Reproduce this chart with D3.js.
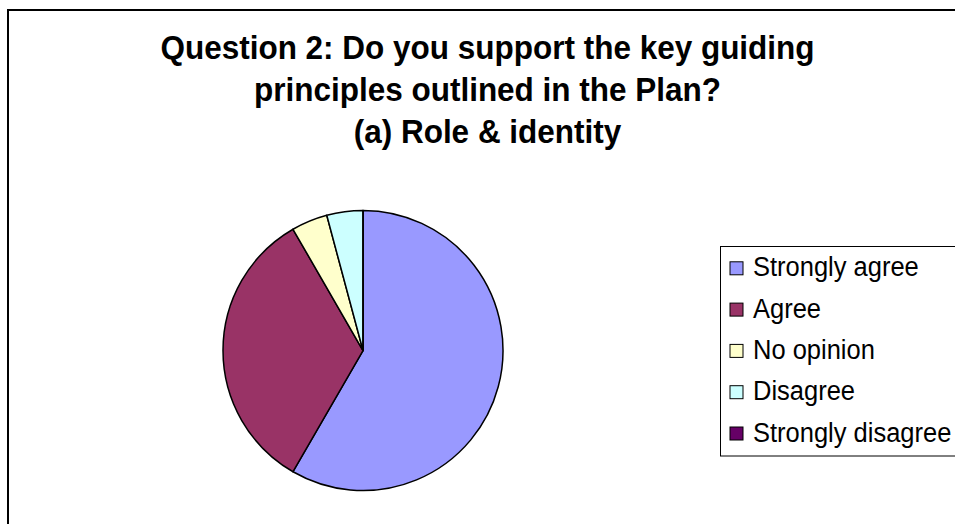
<!DOCTYPE html>
<html>
<head>
<meta charset="utf-8">
<script src="https://cdn.jsdelivr.net/npm/d3@7"></script>
<style>
  body { margin: 0; background: #fff; }
  svg { display: block; }
</style>
</head>
<body>
<div id="pie-chart"></div>
<script>
// chart data
var categories = ["Strongly agree", "Agree", "No opinion", "Disagree", "Strongly disagree"];
var counts = [14, 8, 1, 1, 0];
var colours = ["#9999ff", "#993366", "#ffffcc", "#ccffff", "#660066"];
var titleLines = [
  "Question 2: Do you support the key guiding",
  "principles outlined in the Plan?",
  "(a) Role & identity"
];

var width = 955, height = 524;
var fontFamily = "'Liberation Sans', Arial, sans-serif";

var svg = d3.select("#pie-chart").append("svg")
    .attr("width", width)
    .attr("height", height);

// outer chart frame (runs off the right and bottom edge)
svg.append("rect")
    .attr("x", 8)
    .attr("y", 10)
    .attr("width", 1000)
    .attr("height", 600)
    .attr("fill", "#fff")
    .attr("stroke", "#000")
    .attr("stroke-width", 2);

// title, text in the original is a little taller than wide
svg.selectAll(".title").data(titleLines).enter()
  .append("text")
    .attr("class", "title")
    .attr("text-anchor", "middle")
    .attr("transform", function(d, i) { return "translate(487.5," + (59 + i * 42) + ") scale(1,1.06)"; })
    .style("font-family", fontFamily)
    .style("font-weight", "bold")
    .style("font-size", "31.5px")
    .text(function(d) { return d; });

// pie
var radius = 140;
var pie = d3.pie().sort(null).value(function(d) { return d; });
var arc = d3.arc().innerRadius(0).outerRadius(radius);
var colour = d3.scaleOrdinal().domain(categories).range(colours);

var g = svg.append("g")
    .attr("transform", "translate(363,350.5)");

g.selectAll("path").data(pie(counts)).enter()
  .append("path")
    .attr("d", arc)
    .attr("fill", function(d, i) { return colour(categories[i]); })
    .attr("stroke", "#000")
    .attr("stroke-width", 1.5)
    .attr("stroke-linejoin", "round");

// legend
var legend = svg.append("g")
    .attr("transform", "translate(720.5,246.5)");

legend.append("rect")
    .attr("width", 300)
    .attr("height", 209.5)
    .attr("fill", "#fff")
    .attr("stroke", "#000")
    .attr("stroke-width", 1);

var rows = legend.selectAll(".row").data(categories).enter()
  .append("g")
    .attr("class", "row")
    .attr("transform", function(d, i) { return "translate(0," + (21.8 + i * 41.3) + ")"; });

rows.append("rect")
    .attr("x", 9.5)
    .attr("y", -6.5)
    .attr("width", 13)
    .attr("height", 13)
    .attr("fill", function(d) { return colour(d); })
    .attr("stroke", "#000")
    .attr("stroke-width", 1);

rows.append("text")
    .attr("transform", "translate(32.5,8) scale(1,1.06)")
    .style("font-family", fontFamily)
    .style("font-size", "25.5px")
    .text(function(d) { return d; });
</script>
</body>
</html>
